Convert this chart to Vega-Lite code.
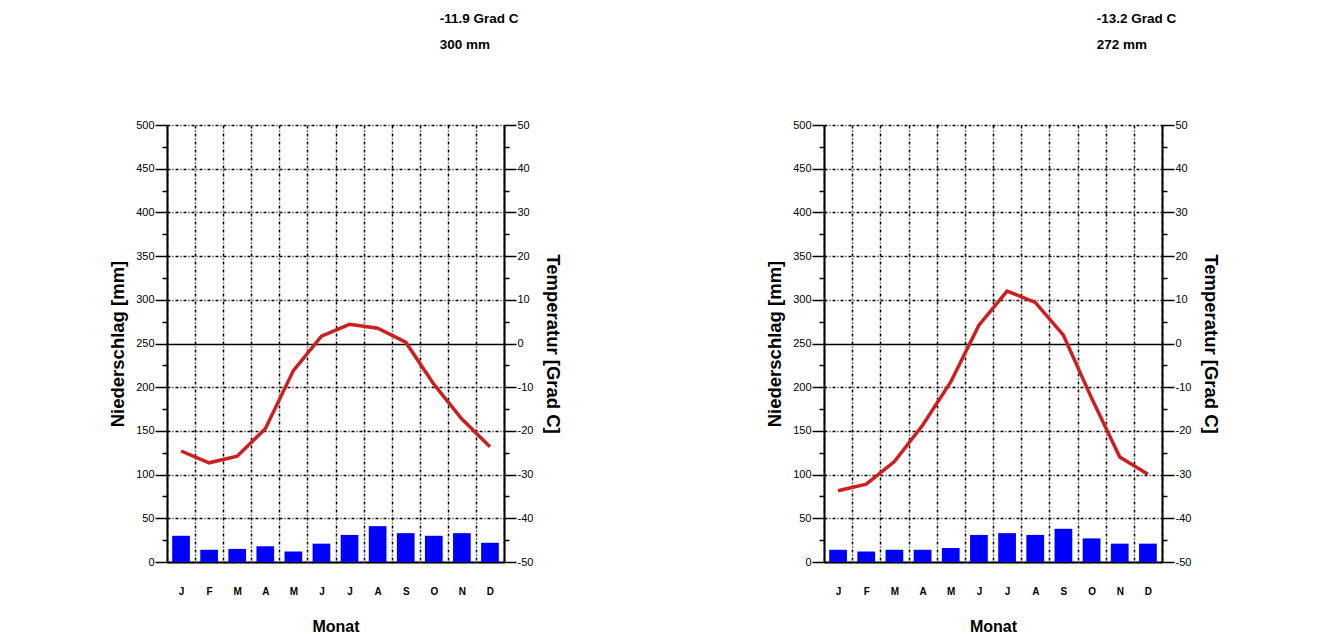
{
  "$schema": "https://vega.github.io/schema/vega-lite/v6.json",
  "background": "white",
  "padding": {"left": 108, "top": 11, "right": 20, "bottom": 0},
  "spacing": 203,
  "config": {
    "font": "Liberation Sans",
    "view": {"stroke": null},
    "axis": {
      "labelFont": "Liberation Sans", "labelFontSize": 11, "labelColor": "black",
      "titleFont": "Liberation Sans", "titleFontSize": 18.5, "titleFontWeight": "bold", "titleColor": "black",
      "domainColor": "black", "domainWidth": 2, "tickColor": "black", "tickWidth": 1.5
    },
    "title": {"font": "Liberation Sans", "fontSize": 13.5, "fontWeight": "bold", "color": "black", "anchor": "start", "align": "left", "lineHeight": 26, "dx": 331, "offset": 68}
  },
  "datasets": {
    "left": [
      {"month": "Jan", "precip": 30, "temp": -24.6},
      {"month": "Feb", "precip": 14, "temp": -27.3},
      {"month": "Mar", "precip": 15, "temp": -25.8},
      {"month": "Apr", "precip": 18, "temp": -19.5},
      {"month": "May", "precip": 12, "temp": -6.2},
      {"month": "Jun", "precip": 21, "temp": 1.7},
      {"month": "Jul", "precip": 31, "temp": 4.4},
      {"month": "Aug", "precip": 41, "temp": 3.5},
      {"month": "Sep", "precip": 33, "temp": 0.3},
      {"month": "Oct", "precip": 30, "temp": -9.3},
      {"month": "Nov", "precip": 33, "temp": -17.3},
      {"month": "Dec", "precip": 22, "temp": -23.6}
    ],
    "right": [
      {"month": "Jan", "precip": 14, "temp": -33.7},
      {"month": "Feb", "precip": 12, "temp": -32.2},
      {"month": "Mar", "precip": 14, "temp": -27.0},
      {"month": "Apr", "precip": 14, "temp": -18.7},
      {"month": "May", "precip": 16, "temp": -8.8},
      {"month": "Jun", "precip": 31, "temp": 4.2},
      {"month": "Jul", "precip": 33, "temp": 12.0},
      {"month": "Aug", "precip": 31, "temp": 9.4},
      {"month": "Sep", "precip": 38, "temp": 1.9},
      {"month": "Oct", "precip": 27, "temp": -12.5},
      {"month": "Nov", "precip": 21, "temp": -26.0},
      {"month": "Dec", "precip": 21, "temp": -29.9}
    ]
  },
  "hconcat": [
    {
      "title": {"text": ["-11.9 Grad C", "300 mm"]},
      "data": {"name": "left"},
      "width": 337, "height": 437,
      "encoding": {
        "x": {"field": "month", "type": "ordinal", "sort": null,
          "scale": {"paddingInner": 0, "paddingOuter": 0},
          "axis": {"title": "Monat", "titleFontSize": 16, "labelAngle": 0, "ticks": false, "tickBand": "extent",
            "labelExpr": "substring(datum.label, 0, 1)", "labelFontWeight": "bold", "labelFontSize": 10,
            "labelPadding": 24, "titlePadding": 22,
            "grid": true, "gridColor": "black", "gridWidth": 1.5, "gridDash": [3, 2, 1, 2]}}
      },
      "layer": [
        {
          "mark": {"type": "bar", "color": "#0000ff", "width": {"band": 0.63}},
          "encoding": {
            "y": {"field": "precip", "type": "quantitative", "scale": {"domain": [0, 500], "nice": false},
              "axis": {"title": "Niederschlag [mm]", "titlePadding": 8, "labelPadding": 1,
                "values": [0, 25, 50, 75, 100, 125, 150, 175, 200, 225, 250, 275, 300, 325, 350, 375, 400, 425, 450, 475, 500],
                "labelExpr": "datum.value % 50 === 0 ? '' + datum.value : ''",
                "tickSize": {"condition": {"test": "datum.value % 50 === 0", "value": 12}, "value": 5},
                "grid": true, "gridColor": "black", "gridWidth": 1.5,
                "gridDash": {"condition": {"test": "datum.value === 250", "value": []}, "value": [3, 2, 1, 2]},
                "gridOpacity": {"condition": {"test": "datum.value % 50 !== 0", "value": 0}, "value": 1}}}
          }
        },
        {
          "mark": {"type": "line", "color": "#cc1f1f", "strokeWidth": 3.5},
          "encoding": {
            "y": {"field": "temp", "type": "quantitative", "scale": {"domain": [-50, 50], "nice": false},
              "axis": {"orient": "right", "title": "Temperatur [Grad C]", "titlePadding": 10, "labelPadding": 1,
                "values": [-50, -45, -40, -35, -30, -25, -20, -15, -10, -5, 0, 5, 10, 15, 20, 25, 30, 35, 40, 45, 50],
                "labelExpr": "datum.value % 10 === 0 ? '' + datum.value : ''",
                "tickSize": {"condition": {"test": "datum.value % 10 === 0", "value": 12}, "value": 5},
                "grid": false}}
          }
        }
      ],
      "resolve": {"scale": {"y": "independent"}}
    },
    {
      "title": {"text": ["-13.2 Grad C", "272 mm"]},
      "data": {"name": "right"},
      "width": 338, "height": 437,
      "encoding": {
        "x": {"field": "month", "type": "ordinal", "sort": null,
          "scale": {"paddingInner": 0, "paddingOuter": 0},
          "axis": {"title": "Monat", "titleFontSize": 16, "labelAngle": 0, "ticks": false, "tickBand": "extent",
            "labelExpr": "substring(datum.label, 0, 1)", "labelFontWeight": "bold", "labelFontSize": 10,
            "labelPadding": 24, "titlePadding": 22,
            "grid": true, "gridColor": "black", "gridWidth": 1.5, "gridDash": [3, 2, 1, 2]}}
      },
      "layer": [
        {
          "mark": {"type": "bar", "color": "#0000ff", "width": {"band": 0.63}},
          "encoding": {
            "y": {"field": "precip", "type": "quantitative", "scale": {"domain": [0, 500], "nice": false},
              "axis": {"title": "Niederschlag [mm]", "titlePadding": 8, "labelPadding": 1,
                "values": [0, 25, 50, 75, 100, 125, 150, 175, 200, 225, 250, 275, 300, 325, 350, 375, 400, 425, 450, 475, 500],
                "labelExpr": "datum.value % 50 === 0 ? '' + datum.value : ''",
                "tickSize": {"condition": {"test": "datum.value % 50 === 0", "value": 12}, "value": 5},
                "grid": true, "gridColor": "black", "gridWidth": 1.5,
                "gridDash": {"condition": {"test": "datum.value === 250", "value": []}, "value": [3, 2, 1, 2]},
                "gridOpacity": {"condition": {"test": "datum.value % 50 !== 0", "value": 0}, "value": 1}}}
          }
        },
        {
          "mark": {"type": "line", "color": "#cc1f1f", "strokeWidth": 3.5},
          "encoding": {
            "y": {"field": "temp", "type": "quantitative", "scale": {"domain": [-50, 50], "nice": false},
              "axis": {"orient": "right", "title": "Temperatur [Grad C]", "titlePadding": 10, "labelPadding": 1,
                "values": [-50, -45, -40, -35, -30, -25, -20, -15, -10, -5, 0, 5, 10, 15, 20, 25, 30, 35, 40, 45, 50],
                "labelExpr": "datum.value % 10 === 0 ? '' + datum.value : ''",
                "tickSize": {"condition": {"test": "datum.value % 10 === 0", "value": 12}, "value": 5},
                "grid": false}}
          }
        }
      ],
      "resolve": {"scale": {"y": "independent"}}
    }
  ]
}
